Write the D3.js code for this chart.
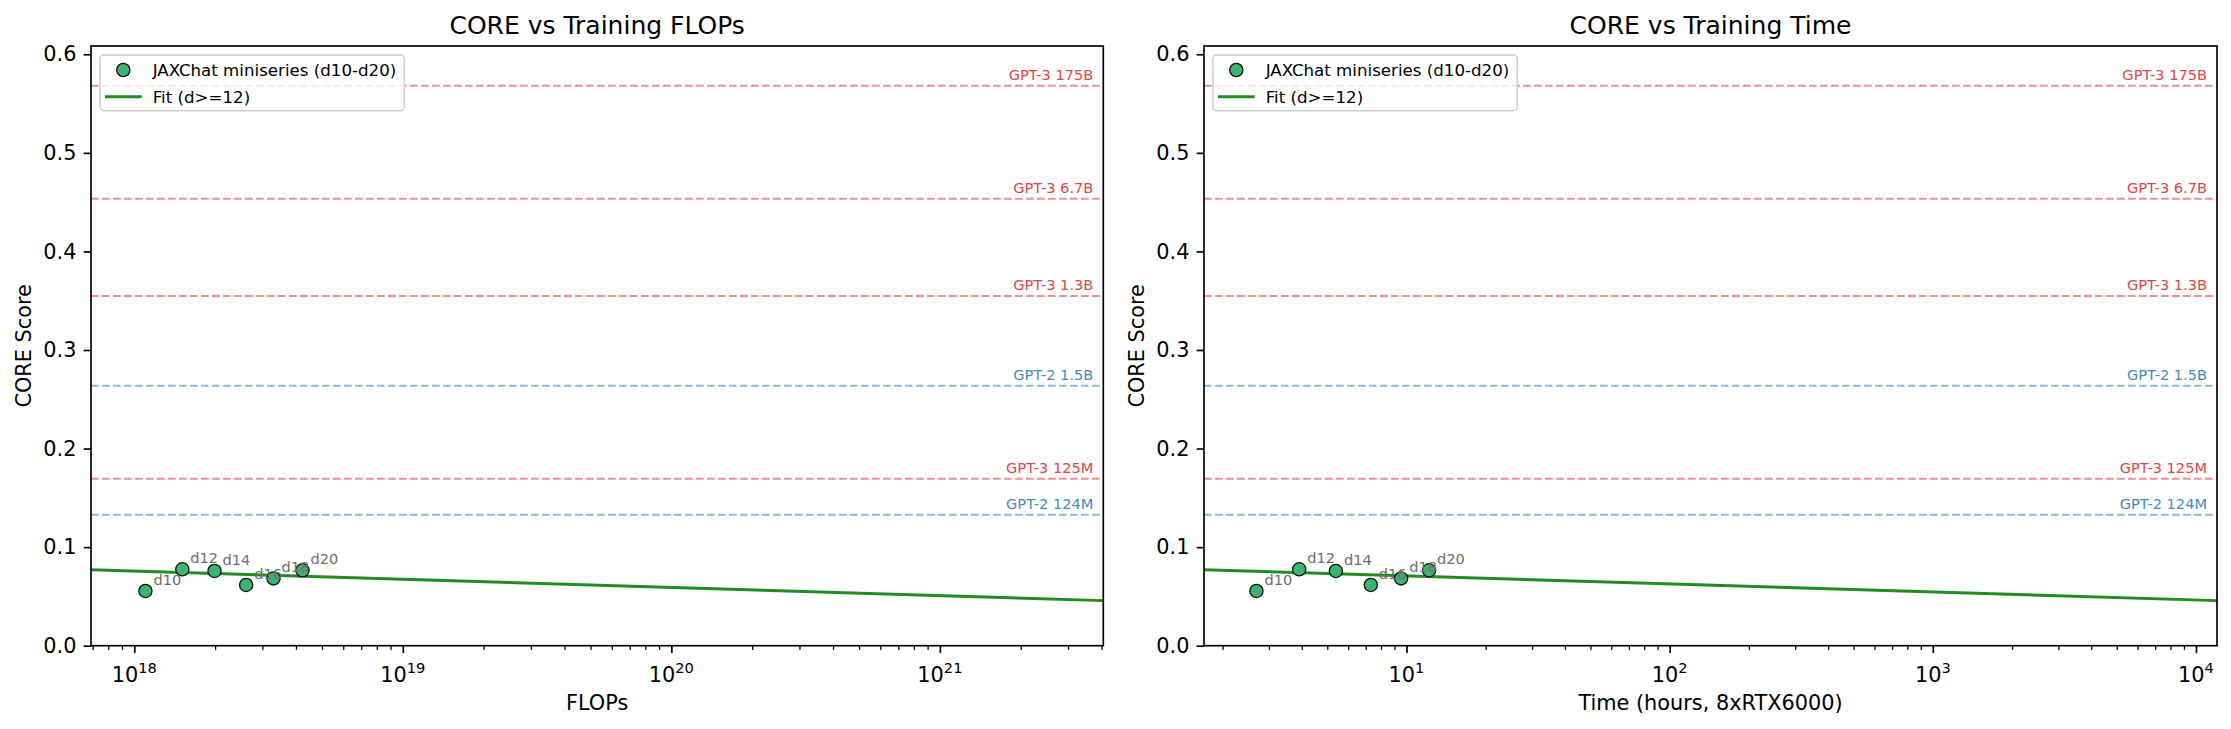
<!DOCTYPE html>
<html>
<head>
<meta charset="utf-8">
<script src="https://cdn.jsdelivr.net/npm/d3@7"></script>
<style>
body { margin: 0; background: #fff; }
text { font-family: "DejaVu Sans", sans-serif; }
</style>
</head>
<body>
<div id="chart"></div>
<script>
// data
var runs = ["d10", "d12", "d14", "d16", "d18", "d20"];
var flops = [1.10e18, 1.51e18, 1.99e18, 2.61e18, 3.30e18, 4.23e18];
var hours = [2.69, 3.91, 5.39, 7.32, 9.54, 12.18];
var core = [0.0555, 0.0775, 0.0758, 0.0616, 0.0683, 0.0765];

var refNames = ["GPT-3 175B", "GPT-3 6.7B", "GPT-3 1.3B", "GPT-2 1.5B", "GPT-3 125M", "GPT-2 124M"];
var refScores = [0.568, 0.4535, 0.3548, 0.2638, 0.1694, 0.1329];

// fit (d>=12) end points, per panel
var fitFlops = [6.9e17, 4.06e21];
var fitHours = [1.70, 1.202e4];
var fitCore = [0.0771, 0.0457];

var flopsRange = [6.9e17, 4.06e21];
var hoursRange = [1.70, 1.202e4];
var yRange = [0, 0.6084];
var yTicks = [0, 0.1, 0.2, 0.3, 0.4, 0.5, 0.6];

var W = 2231, H = 729;
var plotTop = 46, plotBottom = 645.7;

var svg = d3.select("#chart").append("svg")
  .attr("width", W).attr("height", H)
  .style("display", "block");

var y = d3.scaleLinear().domain(yRange).range([plotBottom, plotTop]);

var panels = [
  {id: "a", left: 91, right: 1103.3, xs: flops, range: flopsRange, fitX: fitFlops,
   title: "CORE vs Training FLOPs", xlabel: "FLOPs"},
  {id: "b", left: 1204, right: 2217, xs: hours, range: hoursRange, fitX: fitHours,
   title: "CORE vs Training Time", xlabel: "Time (hours, 8xRTX6000)"}
];

function refColor(name, text) {
  if (name.indexOf("GPT-3") == 0) return text ? "#d62728" : "#eb9394";
  return text ? "#1f77b4" : "#8fbbd9";
}

panels.forEach(function (p) {
  var x = d3.scaleLog().domain(p.range).range([p.left, p.right]);
  var g = svg.append("g");

  g.append("clipPath").attr("id", "clip-" + p.id)
    .append("rect")
    .attr("x", p.left).attr("y", plotTop)
    .attr("width", p.right - p.left).attr("height", plotBottom - plotTop);

  var plot = g.append("g").attr("clip-path", "url(#clip-" + p.id + ")");

  // reference lines
  refNames.forEach(function (name, i) {
    plot.append("line")
      .attr("x1", p.left).attr("x2", p.right)
      .attr("y1", y(refScores[i])).attr("y2", y(refScores[i]))
      .attr("stroke", refColor(name, false))
      .attr("stroke-width", 2.08)
      .attr("stroke-dasharray", "7.7,3.3");
    plot.append("text")
      .attr("x", p.right - 10)
      .attr("y", y(refScores[i]) - 5.5)
      .attr("text-anchor", "end")
      .style("font-size", "14.58px")
      .style("fill", refColor(name, true))
      .style("opacity", 0.85)
      .text(name);
  });

  // fit line
  var fitLine = d3.line()
    .x(function (d) { return x(d[0]); })
    .y(function (d) { return y(d[1]); });
  plot.append("path")
    .datum(p.fitX.map(function (v, i) { return [v, fitCore[i]]; }))
    .attr("d", fitLine)
    .attr("fill", "none")
    .attr("stroke", "#228b22")
    .attr("stroke-width", 2.9);

  // points
  plot.selectAll(".pt")
    .data(runs)
    .enter()
    .append("circle")
    .attr("class", "pt")
    .attr("cx", function (d, i) { return x(p.xs[i]); })
    .attr("cy", function (d, i) { return y(core[i]); })
    .attr("r", 6.6)
    .attr("fill", "#3cb371")
    .attr("stroke", "#111")
    .attr("stroke-width", 1.3);

  plot.selectAll(".lbl")
    .data(runs)
    .enter()
    .append("text")
    .attr("class", "lbl")
    .attr("x", function (d, i) { return x(p.xs[i]) + 8; })
    .attr("y", function (d, i) { return y(core[i]) - 6; })
    .style("font-size", "14.58px")
    .style("fill", "#6e6e6e")
    .text(function (d) { return d; });

  // x ticks
  var lo = Math.floor(Math.log10(p.range[0])), hi = Math.floor(Math.log10(p.range[1]));
  var majors = [], minors = [];
  for (var k = lo; k <= hi; k++) {
    var v = Math.pow(10, k);
    if (v >= p.range[0] && v <= p.range[1]) majors.push(v);
    for (var m = 2; m <= 9; m++) {
      var mv = m * v;
      if (mv >= p.range[0] && mv <= p.range[1]) minors.push(mv);
    }
  }

  g.append("g")
    .attr("transform", "translate(0," + plotBottom + ")")
    .call(d3.axisBottom(x).tickValues(minors).tickSize(4.2).tickFormat(""))
    .call(function (a) { a.select(".domain").remove(); })
    .selectAll("line").attr("stroke", "#000").attr("stroke-width", 1.25);

  var xa = g.append("g")
    .attr("transform", "translate(0," + plotBottom + ")")
    .call(d3.axisBottom(x).tickValues(majors).tickSize(7.3).tickFormat(""));
  xa.select(".domain").remove();
  xa.selectAll("line").attr("stroke", "#000").attr("stroke-width", 1.67);

  majors.forEach(function (v) {
    var t = g.append("text")
      .attr("x", x(v))
      .attr("y", 681.7)
      .attr("text-anchor", "middle")
      .style("font-size", "20.83px")
      .style("fill", "#000");
    t.append("tspan").text("10");
    t.append("tspan")
      .attr("dy", -8.7)
      .style("font-size", "14.6px")
      .text(Math.round(Math.log10(v)));
  });

  // y axis
  var ya = g.append("g")
    .attr("transform", "translate(" + p.left + ",0)")
    .call(d3.axisLeft(y).tickValues(yTicks).tickSize(7.3).tickPadding(7.3)
      .tickFormat(d3.format(".1f")));
  ya.select(".domain").remove();
  ya.selectAll("line").attr("stroke", "#000").attr("stroke-width", 1.67);
  ya.selectAll("text")
    .style("font-size", "20.83px")
    .style("font-family", "DejaVu Sans")
    .style("fill", "#000");

  // spines
  g.append("rect")
    .attr("x", p.left).attr("y", plotTop)
    .attr("width", p.right - p.left).attr("height", plotBottom - plotTop)
    .attr("fill", "none")
    .attr("stroke", "#000")
    .attr("stroke-width", 1.67);

  // legend
  var lx = p.left + 9, ly = 55;
  var leg = g.append("g");
  var box = leg.append("rect")
    .attr("x", lx).attr("y", ly)
    .attr("height", 55.7)
    .attr("rx", 4)
    .attr("fill", "#fff")
    .attr("fill-opacity", 0.8)
    .attr("stroke", "#cccccc")
    .attr("stroke-width", 1.5);
  leg.append("circle")
    .attr("cx", lx + 23.3).attr("cy", ly + 15)
    .attr("r", 6.6)
    .attr("fill", "#3cb371")
    .attr("stroke", "#111")
    .attr("stroke-width", 1.3);
  leg.append("line")
    .attr("x1", lx + 5).attr("x2", lx + 41.7)
    .attr("y1", ly + 41.7).attr("y2", ly + 41.7)
    .attr("stroke", "#228b22")
    .attr("stroke-width", 2.9);
  var t1 = leg.append("text")
    .attr("x", lx + 52.7).attr("y", ly + 21)
    .style("font-size", "16.67px")
    .text("JAXChat miniseries (d10-d20)");
  leg.append("text")
    .attr("x", lx + 52.7).attr("y", ly + 47.5)
    .style("font-size", "16.67px")
    .text("Fit (d>=12)");
  box.attr("width", 52.7 + t1.node().getComputedTextLength() + 8);

  // title and axis labels
  var cx = (p.left + p.right) / 2;
  g.append("text")
    .attr("x", cx).attr("y", 33.5)
    .attr("text-anchor", "middle")
    .style("font-size", "25px")
    .text(p.title);
  g.append("text")
    .attr("x", cx).attr("y", 710)
    .attr("text-anchor", "middle")
    .style("font-size", "20.83px")
    .text(p.xlabel);
  g.append("text")
    .attr("transform", "translate(" + (p.left - 60) + "," + ((plotTop + plotBottom) / 2) + ") rotate(-90)")
    .attr("text-anchor", "middle")
    .style("font-size", "20.83px")
    .text("CORE Score");
});
</script>
</body>
</html>
